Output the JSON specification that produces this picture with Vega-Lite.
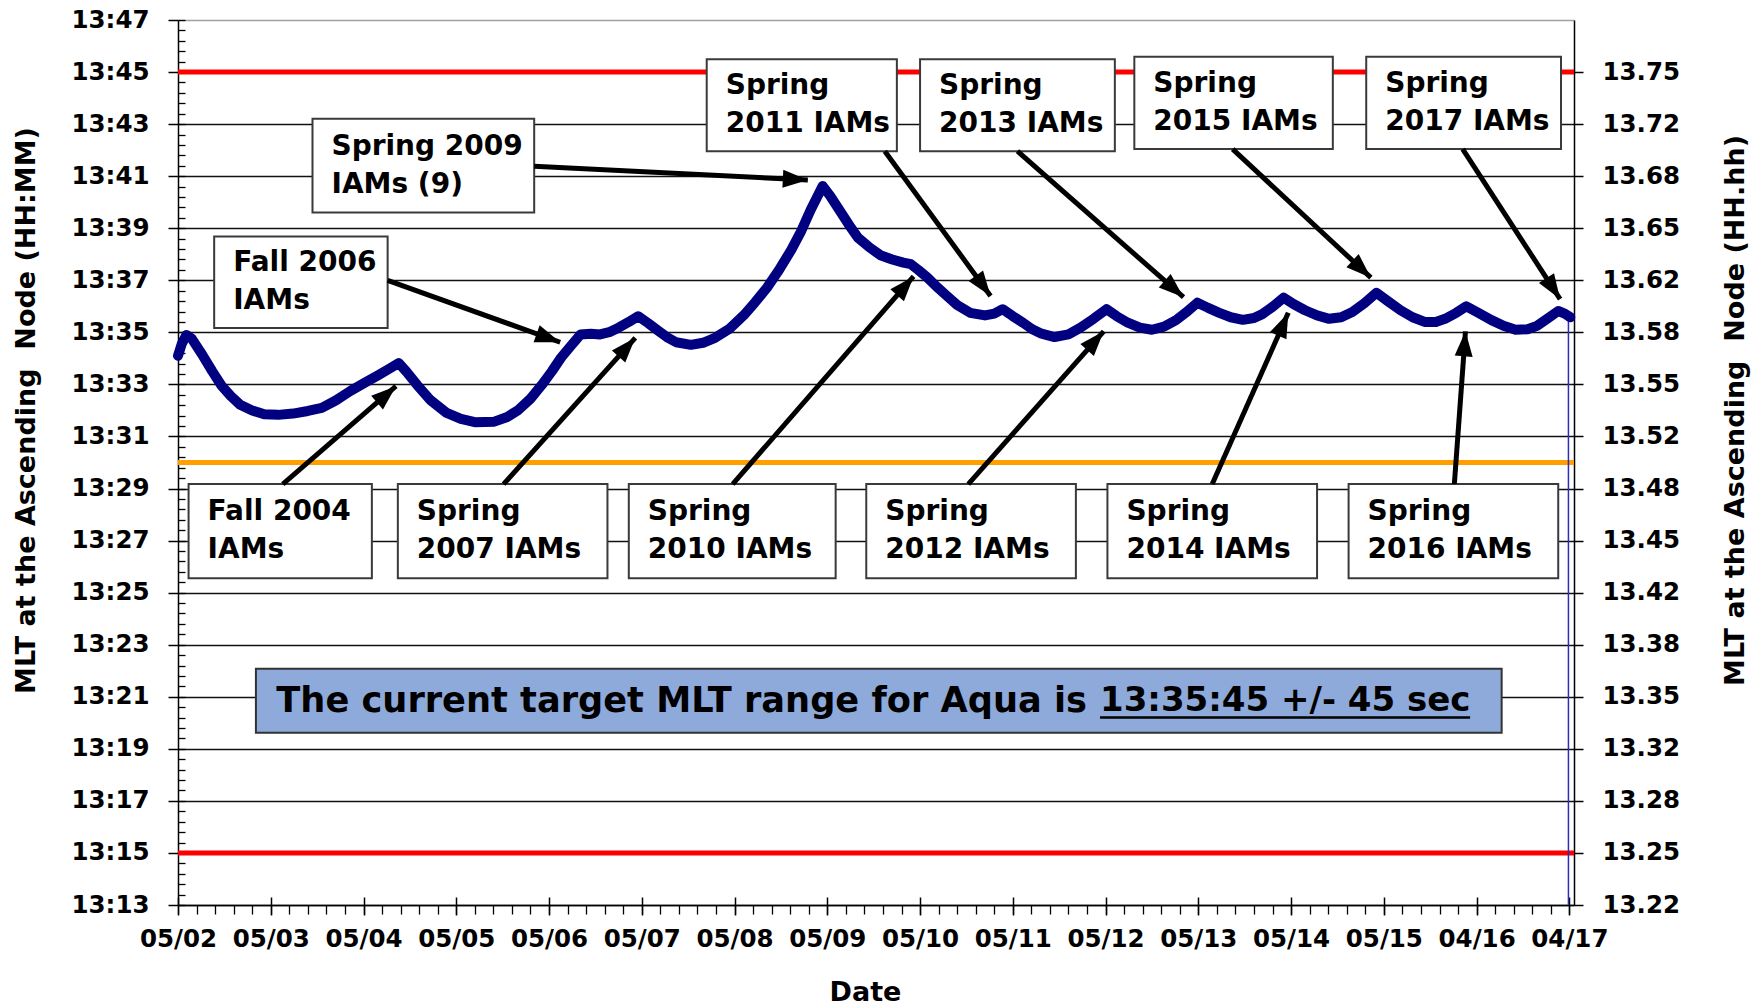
{
  "$schema": "https://vega.github.io/schema/vega-lite/v6.json",
  "width": 1396,
  "height": 885,
  "autosize": {"type": "none"},
  "padding": {"left": 178, "top": 20, "right": 189, "bottom": 103},
  "background": "white",
  "config": {"view": {"stroke": null}, "font": "DejaVu Sans"},
  "datasets": {
    "limits": [
      {"mlt": 45, "kind": "limit"},
      {"mlt": 30, "kind": "target"},
      {"mlt": 15, "kind": "limit"}
    ],
    "drop": [{"yr": 14.99, "lo": 13, "hi": 35.58}],
    "curve": [
      {"yr": 0.00, "mlt": 34.10}, {"yr": 0.04, "mlt": 34.55}, {"yr": 0.09, "mlt": 34.90}, {"yr": 0.15, "mlt": 34.75},
      {"yr": 0.26, "mlt": 34.15}, {"yr": 0.37, "mlt": 33.50}, {"yr": 0.47, "mlt": 32.95}, {"yr": 0.57, "mlt": 32.55},
      {"yr": 0.67, "mlt": 32.22}, {"yr": 0.80, "mlt": 32.00}, {"yr": 0.93, "mlt": 31.85}, {"yr": 1.08, "mlt": 31.83},
      {"yr": 1.24, "mlt": 31.88}, {"yr": 1.40, "mlt": 31.98}, {"yr": 1.55, "mlt": 32.10}, {"yr": 1.70, "mlt": 32.38},
      {"yr": 1.86, "mlt": 32.75}, {"yr": 2.02, "mlt": 33.08}, {"yr": 2.17, "mlt": 33.38}, {"yr": 2.30, "mlt": 33.65},
      {"yr": 2.38, "mlt": 33.82}, {"yr": 2.46, "mlt": 33.50}, {"yr": 2.58, "mlt": 32.97}, {"yr": 2.72, "mlt": 32.40},
      {"yr": 2.89, "mlt": 31.92}, {"yr": 3.05, "mlt": 31.68}, {"yr": 3.20, "mlt": 31.55}, {"yr": 3.41, "mlt": 31.57},
      {"yr": 3.55, "mlt": 31.75}, {"yr": 3.67, "mlt": 32.02}, {"yr": 3.80, "mlt": 32.45}, {"yr": 3.92, "mlt": 32.97},
      {"yr": 4.03, "mlt": 33.50}, {"yr": 4.13, "mlt": 34.03}, {"yr": 4.24, "mlt": 34.50}, {"yr": 4.34, "mlt": 34.92},
      {"yr": 4.45, "mlt": 34.95}, {"yr": 4.55, "mlt": 34.92}, {"yr": 4.66, "mlt": 35.02}, {"yr": 4.75, "mlt": 35.18},
      {"yr": 4.86, "mlt": 35.40}, {"yr": 4.96, "mlt": 35.62}, {"yr": 5.07, "mlt": 35.35}, {"yr": 5.17, "mlt": 35.08},
      {"yr": 5.27, "mlt": 34.82}, {"yr": 5.37, "mlt": 34.62}, {"yr": 5.53, "mlt": 34.52}, {"yr": 5.66, "mlt": 34.60},
      {"yr": 5.79, "mlt": 34.79}, {"yr": 5.95, "mlt": 35.15}, {"yr": 6.10, "mlt": 35.66}, {"yr": 6.22, "mlt": 36.15},
      {"yr": 6.35, "mlt": 36.72}, {"yr": 6.48, "mlt": 37.40}, {"yr": 6.61, "mlt": 38.16}, {"yr": 6.72, "mlt": 38.90},
      {"yr": 6.82, "mlt": 39.70}, {"yr": 6.95, "mlt": 40.62}, {"yr": 7.03, "mlt": 40.25}, {"yr": 7.13, "mlt": 39.70},
      {"yr": 7.23, "mlt": 39.15}, {"yr": 7.33, "mlt": 38.64}, {"yr": 7.46, "mlt": 38.25}, {"yr": 7.58, "mlt": 37.95},
      {"yr": 7.70, "mlt": 37.80}, {"yr": 7.82, "mlt": 37.68}, {"yr": 7.90, "mlt": 37.62}, {"yr": 7.98, "mlt": 37.40},
      {"yr": 8.08, "mlt": 37.10}, {"yr": 8.18, "mlt": 36.75}, {"yr": 8.28, "mlt": 36.43}, {"yr": 8.40, "mlt": 36.05},
      {"yr": 8.54, "mlt": 35.75}, {"yr": 8.70, "mlt": 35.65}, {"yr": 8.80, "mlt": 35.72}, {"yr": 8.89, "mlt": 35.89},
      {"yr": 9.00, "mlt": 35.62}, {"yr": 9.11, "mlt": 35.37}, {"yr": 9.21, "mlt": 35.12}, {"yr": 9.31, "mlt": 34.95},
      {"yr": 9.45, "mlt": 34.82}, {"yr": 9.60, "mlt": 34.92}, {"yr": 9.73, "mlt": 35.18}, {"yr": 9.87, "mlt": 35.52},
      {"yr": 10.01, "mlt": 35.89}, {"yr": 10.12, "mlt": 35.62}, {"yr": 10.24, "mlt": 35.37}, {"yr": 10.37, "mlt": 35.18},
      {"yr": 10.50, "mlt": 35.10}, {"yr": 10.63, "mlt": 35.22}, {"yr": 10.76, "mlt": 35.47}, {"yr": 10.88, "mlt": 35.80},
      {"yr": 10.99, "mlt": 36.14}, {"yr": 11.10, "mlt": 35.95}, {"yr": 11.22, "mlt": 35.76}, {"yr": 11.35, "mlt": 35.58},
      {"yr": 11.48, "mlt": 35.48}, {"yr": 11.60, "mlt": 35.55}, {"yr": 11.69, "mlt": 35.70}, {"yr": 11.80, "mlt": 35.98},
      {"yr": 11.92, "mlt": 36.33}, {"yr": 12.03, "mlt": 36.08}, {"yr": 12.15, "mlt": 35.85}, {"yr": 12.28, "mlt": 35.65},
      {"yr": 12.41, "mlt": 35.52}, {"yr": 12.54, "mlt": 35.58}, {"yr": 12.66, "mlt": 35.78}, {"yr": 12.79, "mlt": 36.12},
      {"yr": 12.92, "mlt": 36.52}, {"yr": 13.05, "mlt": 36.18}, {"yr": 13.18, "mlt": 35.85}, {"yr": 13.31, "mlt": 35.58},
      {"yr": 13.44, "mlt": 35.40}, {"yr": 13.56, "mlt": 35.40}, {"yr": 13.66, "mlt": 35.52}, {"yr": 13.78, "mlt": 35.75},
      {"yr": 13.89, "mlt": 36.00}, {"yr": 14.02, "mlt": 35.75}, {"yr": 14.16, "mlt": 35.47}, {"yr": 14.29, "mlt": 35.25},
      {"yr": 14.42, "mlt": 35.10}, {"yr": 14.55, "mlt": 35.12}, {"yr": 14.65, "mlt": 35.25}, {"yr": 14.76, "mlt": 35.52},
      {"yr": 14.88, "mlt": 35.82}, {"yr": 14.95, "mlt": 35.72}, {"yr": 15.01, "mlt": 35.58}
    ],
    "boxes": [
      {"x1": 0.114, "x2": 2.09, "y1": 25.55, "y2": 29.17, "ym": 27.36, "label": "Fall 2004\nIAMs"},
      {"x1": 2.37, "x2": 4.63, "y1": 25.55, "y2": 29.17, "ym": 27.36, "label": "Spring\n2007 IAMs"},
      {"x1": 4.86, "x2": 7.09, "y1": 25.55, "y2": 29.17, "ym": 27.36, "label": "Spring\n2010 IAMs"},
      {"x1": 7.42, "x2": 9.68, "y1": 25.55, "y2": 29.17, "ym": 27.36, "label": "Spring\n2012 IAMs"},
      {"x1": 10.02, "x2": 12.28, "y1": 25.55, "y2": 29.17, "ym": 27.36, "label": "Spring\n2014 IAMs"},
      {"x1": 12.62, "x2": 14.88, "y1": 25.55, "y2": 29.17, "ym": 27.36, "label": "Spring\n2016 IAMs"},
      {"x1": 0.39, "x2": 2.26, "y1": 35.17, "y2": 38.68, "ym": 36.93, "label": "Fall 2006\nIAMs"},
      {"x1": 1.45, "x2": 3.84, "y1": 39.6, "y2": 43.21, "ym": 41.4, "label": "Spring 2009\nIAMs (9)"},
      {"x1": 5.70, "x2": 7.75, "y1": 41.96, "y2": 45.49, "ym": 43.73, "label": "Spring\n2011 IAMs"},
      {"x1": 8.0, "x2": 10.1, "y1": 41.96, "y2": 45.49, "ym": 43.73, "label": "Spring\n2013 IAMs"},
      {"x1": 10.31, "x2": 12.45, "y1": 42.04, "y2": 45.59, "ym": 43.82, "label": "Spring\n2015 IAMs"},
      {"x1": 12.81, "x2": 14.91, "y1": 42.04, "y2": 45.59, "ym": 43.82, "label": "Spring\n2017 IAMs"}
    ],
    "banner": [{"x1": 0.84, "x2": 14.27, "y1": 19.62, "y2": 22.08}],
    "bannerLead": [{"x": 1.06, "y": 20.82, "text": "The current target MLT range for Aqua is"}],
    "bannerValue": [{"x": 9.94, "y": 20.82, "text": "13:35:45 +/- 45 sec"}],
    "underline": [{"x1": 9.94, "x2": 13.93, "y": 20.2}],
    "arrows": [
      {"x1": 1.13, "y1": 29.17, "x2": 2.35, "y2": 32.93},
      {"x1": 3.51, "y1": 29.17, "x2": 4.93, "y2": 34.79},
      {"x1": 5.98, "y1": 29.17, "x2": 7.93, "y2": 37.15},
      {"x1": 8.52, "y1": 29.17, "x2": 9.98, "y2": 35.04},
      {"x1": 11.15, "y1": 29.17, "x2": 11.97, "y2": 35.75},
      {"x1": 13.76, "y1": 29.17, "x2": 13.88, "y2": 35.04},
      {"x1": 2.26, "y1": 37.0, "x2": 4.12, "y2": 34.62},
      {"x1": 3.84, "y1": 41.38, "x2": 6.79, "y2": 40.85},
      {"x1": 7.62, "y1": 41.96, "x2": 8.76, "y2": 36.4},
      {"x1": 9.05, "y1": 41.96, "x2": 10.84, "y2": 36.35},
      {"x1": 11.37, "y1": 42.04, "x2": 12.86, "y2": 37.1},
      {"x1": 13.85, "y1": 42.04, "x2": 14.9, "y2": 36.28}
    ]
  },
  "layer": [
    {
      "data": {"name": "limits"},
      "mark": {"type": "rule", "strokeWidth": 5},
      "encoding": {
        "y": {
          "field": "mlt", "type": "quantitative",
          "scale": {"domain": [13, 47], "nice": false, "zero": false},
          "axis": {
            "orient": "left",
            "values": [13, 15, 17, 19, 21, 23, 25, 27, 29, 31, 33, 35, 37, 39, 41, 43, 45, 47],
            "labelExpr": "'13:' + datum.value",
            "labelFont": "DejaVu Sans", "labelFontWeight": "bold", "labelFontSize": 24.5, "labelColor": "#000",
            "labelPadding": 19, "labelFlush": false, "labelOverlap": false,
            "tickSize": 10, "tickColor": "#000", "tickWidth": 1.5,
            "domainColor": "#000", "domainWidth": 1.5,
            "grid": true,
            "gridColor": {"condition": {"test": "datum.value == 47", "value": "#a0a0a0"}, "value": "#111111"},
            "gridWidth": 1.4,
            "title": "MLT at the Ascending\u00a0 Node (HH:MM)",
            "titleFont": "DejaVu Sans", "titleFontWeight": "bold", "titleFontSize": 27, "titleColor": "#000",
            "titleAngle": -90, "titleX": -152, "titleY": 390, "titleBaseline": "middle", "titleAlign": "center"
          }
        },
        "color": {
          "field": "kind", "type": "nominal",
          "scale": {"domain": ["limit", "target"], "range": ["#ff0000", "#ffa000"]},
          "legend": null
        }
      }
    },
    {
      "data": {"name": "drop"},
      "mark": {"type": "rule", "color": "#2c2cb8", "strokeWidth": 1.5},
      "encoding": {
        "x": {
          "field": "yr", "type": "quantitative",
          "scale": {"domain": [0, 15.05], "nice": false, "zero": false},
          "axis": {
            "orient": "bottom",
            "values": [0,0.2,0.4,0.6,0.8,1,1.2,1.4,1.6,1.8,2,2.2,2.4,2.6,2.8,3,3.2,3.4,3.6,3.8,4,4.2,4.4,4.6,4.8,5,5.2,5.4,5.6,5.8,6,6.2,6.4,6.6,6.8,7,7.2,7.4,7.6,7.8,8,8.2,8.4,8.6,8.8,9,9.2,9.4,9.6,9.8,10,10.2,10.4,10.6,10.8,11,11.2,11.4,11.6,11.8,12,12.2,12.4,12.6,12.8,13,13.2,13.4,13.6,13.8,14,14.2,14.4,14.6,14.8,15],
            "labels": false, "domain": false, "grid": false,
            "tickSize": 9, "tickColor": "#000", "tickWidth": 1.3, "title": null
          }
        },
        "y": {
          "field": "lo", "type": "quantitative",
          "scale": {"domain": [13, 47], "nice": false, "zero": false},
          "axis": {
            "orient": "left",
            "values": [13,13.4,13.8,14.2,14.6,15,15.4,15.8,16.2,16.6,17,17.4,17.8,18.2,18.6,19,19.4,19.8,20.2,20.6,21,21.4,21.8,22.2,22.6,23,23.4,23.8,24.2,24.6,25,25.4,25.8,26.2,26.6,27,27.4,27.8,28.2,28.6,29,29.4,29.8,30.2,30.6,31,31.4,31.8,32.2,32.6,33,33.4,33.8,34.2,34.6,35,35.4,35.8,36.2,36.6,37,37.4,37.8,38.2,38.6,39,39.4,39.8,40.2,40.6,41,41.4,41.8,42.2,42.6,43,43.4,43.8,44.2,44.6,45,45.4,45.8,46.2,46.6,47],
            "labels": false, "domain": false, "grid": false,
            "tickSize": -7, "tickColor": "#000", "tickWidth": 1.3, "title": null
          }
        },
        "y2": {"field": "hi"}
      }
    },
    {
      "data": {"name": "curve"},
      "mark": {"type": "line", "color": "#000080", "strokeWidth": 10, "strokeJoin": "round", "strokeCap": "round"},
      "encoding": {
        "x": {
          "field": "yr", "type": "quantitative",
          "scale": {"domain": [0, 15.05], "nice": false, "zero": false},
          "axis": {
            "orient": "bottom",
            "values": [0, 1, 2, 3, 4, 5, 6, 7, 8, 9, 10, 11, 12, 13, 14, 15],
            "labelExpr": "['05/02','05/03','05/04','05/05','05/06','05/07','05/08','05/09','05/10','05/11','05/12','05/13','05/14','05/15','04/16','04/17'][round(datum.value)]",
            "labelFont": "DejaVu Sans", "labelFontWeight": "bold", "labelFontSize": 24.5, "labelColor": "#000",
            "labelPadding": 12, "labelFlush": false, "labelOverlap": false,
            "tickSize": 10, "tickColor": "#000", "tickWidth": 1.5,
            "domainColor": "#000", "domainWidth": 1.5, "grid": false,
            "title": "Date",
            "titleFont": "DejaVu Sans", "titleFontWeight": "bold", "titleFontSize": 27, "titleColor": "#000",
            "titleX": 687, "titleY": 74, "titleBaseline": "top", "titleAlign": "center"
          }
        },
        "y": {
          "field": "mlt", "type": "quantitative",
          "scale": {"domain": [13, 47], "nice": false, "zero": false},
          "axis": {
            "orient": "right",
            "values": [13, 15, 17, 19, 21, 23, 25, 27, 29, 31, 33, 35, 37, 39, 41, 43, 45],
            "labelExpr": "format(13 + datum.value / 60, '.2f')",
            "labelFont": "DejaVu Sans", "labelFontWeight": "bold", "labelFontSize": 24.5, "labelColor": "#000",
            "labelPadding": 19, "labelFlush": false, "labelOverlap": false,
            "tickSize": 9, "tickColor": "#000", "tickWidth": 1.5,
            "domainColor": "#000", "domainWidth": 1.5, "grid": false,
            "title": "MLT at the Ascending\u00a0 Node (HH.hh)",
            "titleFont": "DejaVu Sans", "titleFontWeight": "bold", "titleFontSize": 27, "titleColor": "#000",
            "titleAngle": -90, "titleX": 161, "titleY": 390, "titleBaseline": "middle", "titleAlign": "center"
          }
        }
      }
    },
    {
      "data": {"name": "boxes"},
      "mark": {"type": "rect", "fill": "#ffffff", "stroke": "#3a3a3a", "strokeWidth": 2},
      "encoding": {
        "x": {"field": "x1", "type": "quantitative", "scale": {"domain": [0, 15.05], "nice": false, "zero": false}, "axis": null},
        "x2": {"field": "x2"},
        "y": {"field": "y1", "type": "quantitative", "scale": {"domain": [13, 47], "nice": false, "zero": false}, "axis": null},
        "y2": {"field": "y2"}
      }
    },
    {
      "data": {"name": "boxes"},
      "mark": {"type": "text", "align": "left", "baseline": "middle", "dx": 19, "dy": -19, "font": "DejaVu Sans", "fontWeight": "bold", "fontSize": 28, "lineHeight": 38, "lineBreak": "\n", "color": "#000"},
      "encoding": {
        "x": {"field": "x1", "type": "quantitative", "scale": {"domain": [0, 15.05], "nice": false, "zero": false}, "axis": null},
        "y": {"field": "ym", "type": "quantitative", "scale": {"domain": [13, 47], "nice": false, "zero": false}, "axis": null},
        "text": {"field": "label", "type": "nominal"}
      }
    },
    {
      "data": {"name": "banner"},
      "mark": {"type": "rect", "fill": "#8eaadb", "stroke": "#333333", "strokeWidth": 2},
      "encoding": {
        "x": {"field": "x1", "type": "quantitative", "scale": {"domain": [0, 15.05], "nice": false, "zero": false}, "axis": null},
        "x2": {"field": "x2"},
        "y": {"field": "y1", "type": "quantitative", "scale": {"domain": [13, 47], "nice": false, "zero": false}, "axis": null},
        "y2": {"field": "y2"}
      }
    },
    {
      "data": {"name": "bannerLead"},
      "mark": {"type": "text", "align": "left", "baseline": "middle", "font": "DejaVu Sans", "fontWeight": "bold", "fontSize": 35.2, "color": "#000"},
      "encoding": {
        "x": {"field": "x", "type": "quantitative", "scale": {"domain": [0, 15.05], "nice": false, "zero": false}, "axis": null},
        "y": {"field": "y", "type": "quantitative", "scale": {"domain": [13, 47], "nice": false, "zero": false}, "axis": null},
        "text": {"field": "text", "type": "nominal"}
      }
    },
    {
      "data": {"name": "bannerValue"},
      "mark": {"type": "text", "align": "left", "baseline": "middle", "font": "DejaVu Sans", "fontWeight": "bold", "fontSize": 34, "color": "#000"},
      "encoding": {
        "x": {"field": "x", "type": "quantitative", "scale": {"domain": [0, 15.05], "nice": false, "zero": false}, "axis": null},
        "y": {"field": "y", "type": "quantitative", "scale": {"domain": [13, 47], "nice": false, "zero": false}, "axis": null},
        "text": {"field": "text", "type": "nominal"}
      }
    },
    {
      "data": {"name": "underline"},
      "mark": {"type": "rule", "color": "#000", "strokeWidth": 2.5},
      "encoding": {
        "x": {"field": "x1", "type": "quantitative", "scale": {"domain": [0, 15.05], "nice": false, "zero": false}, "axis": null},
        "x2": {"field": "x2"},
        "y": {"field": "y", "type": "quantitative", "scale": {"domain": [13, 47], "nice": false, "zero": false}, "axis": null}
      }
    },
    {
      "data": {"name": "arrows"},
      "mark": {"type": "rule", "color": "#000", "strokeWidth": 5},
      "encoding": {
        "x": {
          "field": "x1", "type": "quantitative",
          "scale": {"domain": [0, 15.05], "nice": false, "zero": false},
          "axis": {
            "orient": "bottom",
            "values": [0, 1, 2, 3, 4, 5, 6, 7, 8, 9, 10, 11, 12, 13, 14, 15],
            "labels": false, "domain": false, "grid": false,
            "tickSize": -8, "tickColor": "#000", "tickWidth": 1.5, "title": null
          }
        },
        "x2": {"field": "x2"},
        "y": {"field": "y1", "type": "quantitative", "scale": {"domain": [13, 47], "nice": false, "zero": false}, "axis": null},
        "y2": {"field": "y2"}
      }
    },
    {
      "data": {"name": "arrows"},
      "mark": {
        "type": "point", "filled": true, "color": "#000", "opacity": 1, "size": 2500,
        "shape": "M0,0L0.36,1L-0.36,1Z",
        "angle": {"expr": "atan2(scale('x', datum.x2) - scale('x', datum.x1), scale('y', datum.y1) - scale('y', datum.y2)) * 180 / PI"}
      },
      "encoding": {
        "x": {"field": "x2", "type": "quantitative", "scale": {"domain": [0, 15.05], "nice": false, "zero": false}, "axis": null},
        "y": {"field": "y2", "type": "quantitative", "scale": {"domain": [13, 47], "nice": false, "zero": false}, "axis": null}
      }
    }
  ],
  "resolve": {
    "scale": {"x": "shared", "y": "shared"},
    "axis": {"x": "independent", "y": "independent"}
  }
}
